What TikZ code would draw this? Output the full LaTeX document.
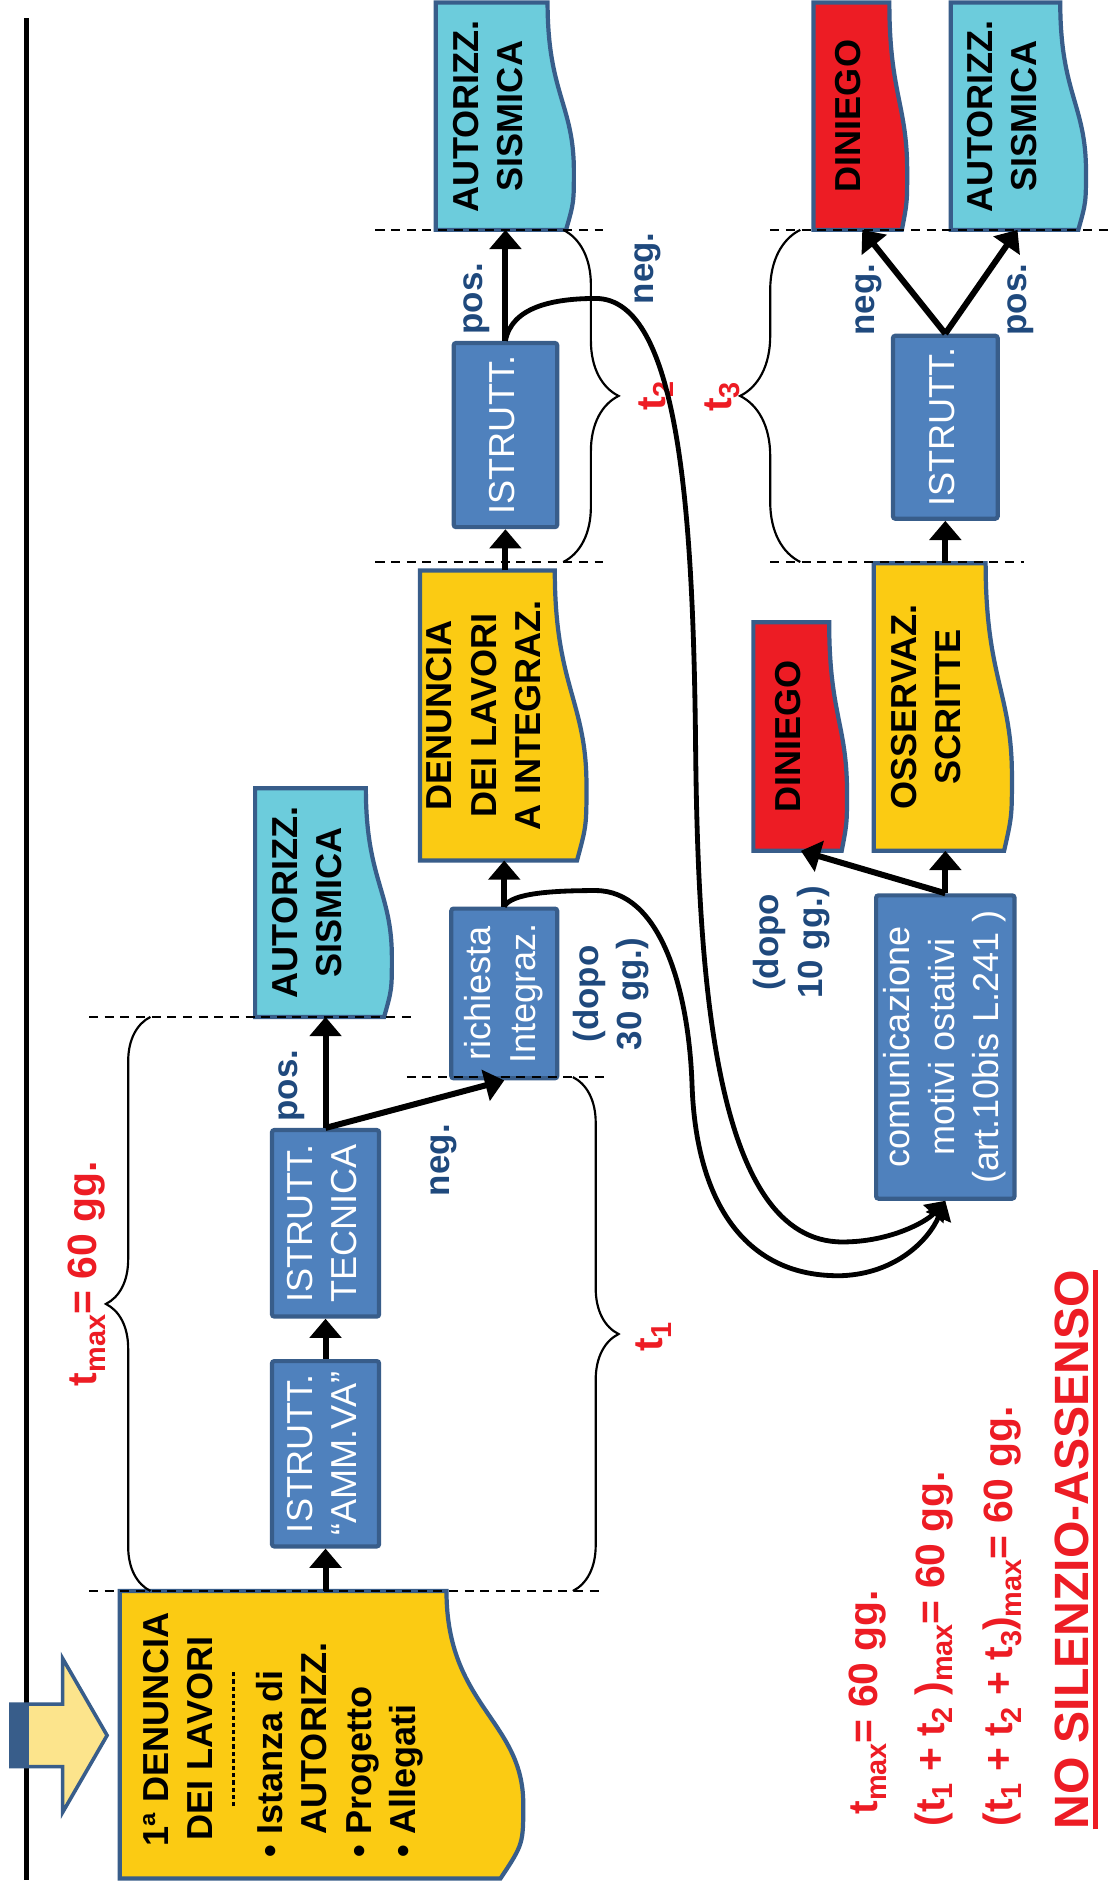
\documentclass[tikz,border=0pt]{standalone}
\usepackage{fontspec}
\setmainfont{Liberation Sans}
\usepackage{graphicx}
\usetikzlibrary{arrows.meta,decorations.pathreplacing}

\definecolor{giallo}{RGB}{251,203,19}
\definecolor{ciano}{RGB}{108,204,220}
\definecolor{rosso}{RGB}{237,28,36}
\definecolor{blubox}{RGB}{79,129,189}
\definecolor{bordo}{RGB}{56,93,138}
\definecolor{blutesto}{RGB}{31,73,125}
\definecolor{gialloch}{RGB}{252,228,140}

% testo verticale (dal basso verso l'alto)
\newcommand{\vt}[1]{\rotatebox{90}{\begin{tabular}{@{}c@{}}#1\end{tabular}}}
\newcommand{\sepdash}{\hbox to 114pt{\xleaders\hbox to 6pt{\hss\rule{3.5pt}{2pt}\hss}\hfil}}
% pedice dei tempi
\newcommand{\pedice}[1]{\raisebox{-7pt}{\fontsize{24}{24}\selectfont #1}}

% documento: nome, xl, yt, xr, yb, colore, testo
\newcommand{\docbox}[7]{%
  \filldraw[fill=#6, draw=bordo, line width=3.5pt] (#2,#3) -- (#4,#3)
    .. controls (#4,{#3+0.4*(#5-#3)}) and ({#4+0.235*(#4-#2)},{#3+0.45*(#5-#3)}) ..
    ({#4+0.235*(#4-#2)},{#3+0.74*(#5-#3)})
    .. controls ({#4+0.235*(#4-#2)},{#3+0.88*(#5-#3)}) ..
    ({#4+0.165*(#4-#2)},#5) -- (#2,#5) -- cycle;
  \node[testobox, minimum width={(#4-#2)*1pt}, minimum height={(#5-#3)*1pt}]
    (#1) at ({(#2+#4)/2},{(#3+#5)/2}) {#7};%
}

\begin{document}
\begin{tikzpicture}[x=1pt, y=-1pt,
  scatola/.style={draw=bordo, fill=blubox, line width=3.5pt, rounded corners=2pt,
    text=white, inner sep=0, font=\fontsize{30}{37}\selectfont},
  testobox/.style={inner sep=0, outer sep=0, text=black, font=\bfseries\fontsize{30}{37}\selectfont},
  etichetta/.style={inner sep=0, text=blutesto, font=\bfseries\fontsize{29}{36}\selectfont},
  rossa/.style={inner sep=0, text=rosso, font=\bfseries\fontsize{34}{40}\selectfont},
  freccia/.style={line width=5pt, -{Triangle[length=16pt,width=26pt]}},
  curva/.style={line width=4pt, -{Triangle[length=15pt,width=22pt]}},
  tratteggio/.style={line width=1.8pt, dash pattern=on 7.5pt off 5.5pt},
  graffa/.style={line width=1.8pt, decorate, decoration={brace, amplitude=#1}}]

  \fill[white] (0,0) rectangle (925,1568);
  \useasboundingbox (0,0) rectangle (925,1568);

  % linea verticale e freccia d'ingresso
  \draw[line width=3.5pt] (22,15) -- (22,1562);
  \filldraw[fill=gialloch, draw=bordo, line width=3pt] (9,1416) -- (52,1416) -- (52,1378)
    -- (89,1442) -- (52,1506) -- (52,1468) -- (9,1468) -- cycle;
  \fill[bordo] (9,1416) rectangle (24,1468);

  % documenti
  \docbox{den1}{99.5}{1322}{371}{1561}{giallo}{\rotatebox{90}{\begin{tabular}{@{}l@{}}
    \hspace*{9pt}1ª DENUNCIA\\
    \hspace*{14pt}DEI LAVORI\\[-8pt]
    \hspace*{41pt}\raisebox{10.5pt}{\sepdash}\\[-8pt]
    • Istanza di\\
    \phantom{• }AUTORIZZ.\\
    • Progetto\\
    • Allegati
  \end{tabular}}}
  \docbox{aut1}{212}{655}{304}{845}{ciano}{\vt{AUTORIZZ.\\SISMICA}}
  \docbox{integ}{349}{474}{461}{715}{giallo}{\vt{DENUNCIA\\DEI LAVORI\\A INTEGRAZ.}}
  \docbox{aut2}{362}{2}{455}{191}{ciano}{\vt{AUTORIZZ.\\SISMICA}}
  \docbox{din1}{676}{2}{739}{191}{rosso}{\vt{DINIEGO}}
  \docbox{aut3}{790}{2}{881}{191}{ciano}{\vt{AUTORIZZ.\\SISMICA}}
  \docbox{oss}{726}{468}{819}{707}{giallo}{\vt{OSSERVAZ.\\SCRITTE}}
  \docbox{din2}{626}{517}{689}{707}{rosso}{\vt{DINIEGO}}

  % istruttorie
  \node[scatola, minimum width=89pt, minimum height=154pt] (amm) at (270.5,1208) {\vt{ISTRUTT.\\“AMM.VA”}};
  \node[scatola, minimum width=89pt, minimum height=155pt] (tec) at (270.5,1016.5) {\vt{ISTRUTT.\\TECNICA}};
  \node[scatola, minimum width=88pt, minimum height=141pt] (rich) at (419,825.5) {\vt{richiesta\\Integraz.}};
  \node[scatola, minimum width=86pt, minimum height=153pt] (istr2) at (420,361.5) {\vt{ISTRUTT.}};
  \node[scatola, minimum width=87pt, minimum height=152pt] (istr3) at (785.5,355) {\vt{ISTRUTT.}};
  \node[scatola, minimum width=115pt, minimum height=252pt] (comm) at (785.5,870)
    {\vt{comunicazione\\motivi ostativi\\(art.10bis L.241 )}};

  % linee dei tempi
  \draw[tratteggio] (74,1322) -- (501,1322);
  \draw[tratteggio] (74,845) -- (347,845);
  \draw[tratteggio] (338,895) -- (502,895);
  \draw[tratteggio] (312,467) -- (501,467);
  \draw[tratteggio] (312,191) -- (501,191);
  \draw[tratteggio] (640,191) -- (925,191);
  \draw[tratteggio] (640,467) -- (851,467);

  % graffe
  \draw[graffa=37pt] (125,1322) -- (125,845);
  \draw[graffa=38pt] (476,895) -- (476,1322);
  \draw[graffa=46pt] (468,191) -- (468,467);
  \draw[graffa=50pt] (665,467) -- (665,191);

  % etichette
  \node[etichetta] (pos1) at (242,902) {\rotatebox{90}{pos.}};
  \node[etichetta] (neg1) at (369,964) {\rotatebox{90}{neg.}};
  \node[etichetta] (pos2) at (396,248) {\rotatebox{90}{pos.}};
  \node[etichetta] (neg2) at (538,223) {\rotatebox{90}{neg.}};
  \node[etichetta] (neg3) at (722,249) {\rotatebox{90}{neg.}};
  \node[etichetta] (pos3) at (848,249) {\rotatebox{90}{pos.}};
  \node[etichetta] (dopo30) at (508,826) {\vt{(dopo\\30 gg.)}};
  \node[etichetta] (dopo10) at (658,783) {\vt{(dopo\\10 gg.)}};

  \node[rossa, anchor=south] (tmax) at (72,1152) {\rotatebox{90}{t\pedice{max}= 60 gg.}};
  \node[rossa] (t1) at (543,1111) {\rotatebox{90}{t\pedice{1}}};
  \node[rossa] (t2) at (545,329) {\rotatebox{90}{t\pedice{2}}};
  \node[rossa] (t3) at (600,330) {\rotatebox{90}{t\pedice{3}}};

  \node[rossa, anchor=south] (f1) at (721,1508) {\rotatebox{90}{t\pedice{max}= 60 gg.}};
  \node[rossa, anchor=south] (f2) at (776,1518)
    {\rotatebox{90}{(t\pedice{1} + t\pedice{2} )\pedice{max}= 60 gg.}};
  \node[rossa, anchor=south] (f3) at (833,1518)
    {\rotatebox{90}{(t\pedice{1} + t\pedice{2} + t\pedice{3})\pedice{max}= 60 gg.}};
  \node[rossa, font=\bfseries\fontsize{40}{46}\selectfont, anchor=south] (nosa) at (891,1520)
    {\rotatebox{90}{NO SILENZIO-ASSENSO}};
  \draw[rosso, line width=3.5pt] ([xshift=5pt]nosa.south east) -- ([xshift=5pt]nosa.north east);

  % frecce
  \draw[freccia] (amm.south |- den1.north) -- (amm.south);
  \draw[freccia] (amm.north) -- (tec.south);
  \draw[freccia] (tec.north) -- (tec.north |- aut1.south);
  \draw[freccia] (tec.north) -- (rich.south);
  \draw[freccia] (rich.north) -- (rich.north |- integ.south);
  \draw[freccia] (istr2.south |- integ.north) -- (istr2.south);
  \draw[freccia] (istr2.north) -- (istr2.north |- aut2.south);
  \draw[freccia] (istr3.south |- oss.north) -- (istr3.south);
  \draw[freccia] (istr3.north) -- ([xshift=9pt]din1.south);
  \draw[freccia] (istr3.north) -- ([xshift=10pt]aut3.south);
  \draw[freccia] (comm.north) -- (comm.north |- oss.south);
  \draw[freccia] (comm.north) -- ([xshift=8pt]din2.south);

  % rinvii alla comunicazione
  \draw[curva] (istr2.north) .. controls (425,255) and (460,248) .. (495,248)
    .. controls (565,248) and (576,430) .. (578,620)
    .. controls (580,820) and (595,1032) .. (700,1032)
    .. controls (740,1032) and (770,1015) .. (comm.south);
  \draw[curva] (rich.north) .. controls (425,742) and (460,740) .. (495,740)
    .. controls (548,740) and (572,820) .. (575,900)
    .. controls (578,1000) and (620,1062) .. (700,1060)
    .. controls (745,1058) and (772,1030) .. (comm.south);
\end{tikzpicture}
\end{document}
